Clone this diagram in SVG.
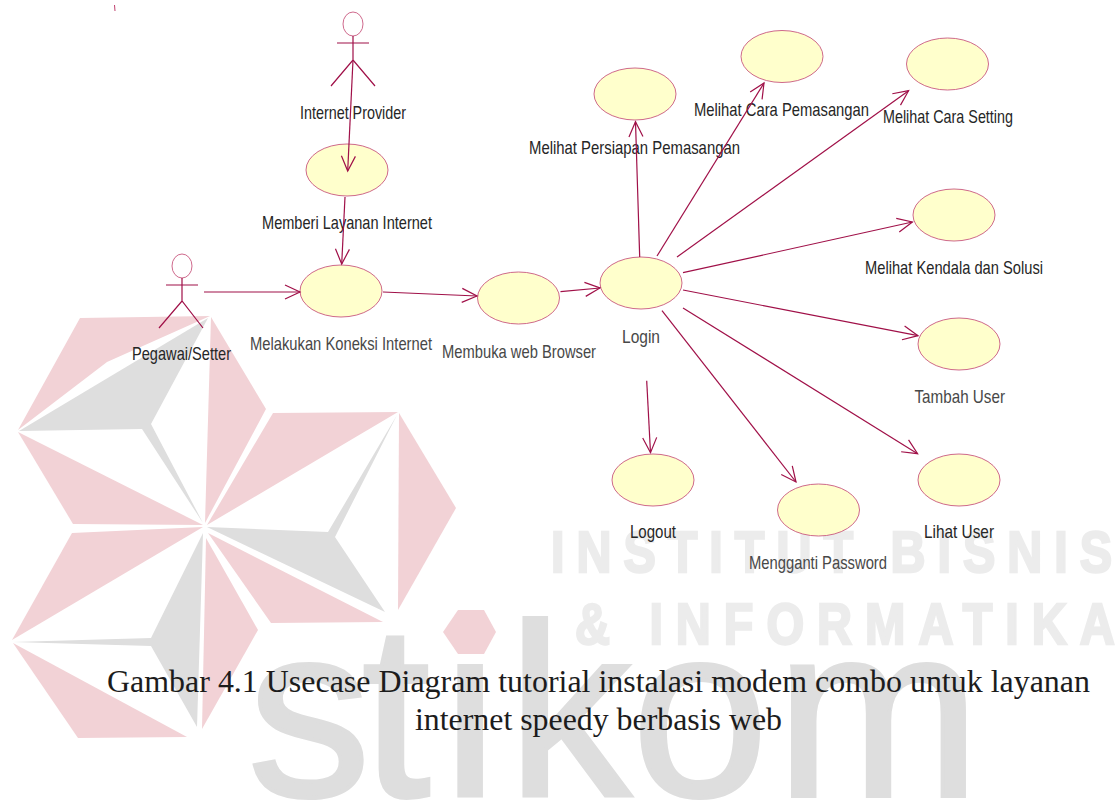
<svg xmlns="http://www.w3.org/2000/svg" width="1115" height="801" viewBox="0 0 1115 801">
<style>
.pink{fill:#f2d2d6}
.gray{fill:#dedede}
.uc{fill:#ffffcc;stroke:#c8587f;stroke-width:.9}
.act{fill:none;stroke:#a01048;stroke-width:1.2}
.head{fill:#fff;stroke:#c8587f;stroke-width:.9}
.c{fill:none;stroke:#a01048;stroke-width:1.2;marker-end:url(#arr)}
.l{font-family:"Liberation Sans",Arial,sans-serif;font-size:18.5px;fill:#262626}
.g{fill:#484848}
.cap{font-family:"Liberation Serif","Times New Roman",serif;font-size:32px;fill:#1c1c1c}
.wm{font-family:"Liberation Sans",Arial,sans-serif;font-weight:700;font-size:57px;fill:#ececec;stroke:#ececec;stroke-width:2.5}
.big{font-family:"Liberation Sans",Arial,sans-serif;font-size:245px;fill:#dedede;stroke:#dedede;stroke-width:4}
</style>
<defs>
<marker id="arr" markerUnits="userSpaceOnUse" markerWidth="20" markerHeight="18" refX="16" refY="8" orient="auto">
<path d="M1,1 L16,8 L1,15" fill="none" stroke="#a01048" stroke-width="1.2"/>
</marker>
</defs>
<rect width="1115" height="801" fill="#fff"/>
<g id="watermark">
<text class="big" y="796" x="248 362 443 508 632 776">stikom</text>
<polygon class="pink" points="443,632 458,610 484,610 496,632 484,654 458,654"/>
<polygon class="pink" points="80,318 210,316 107,362 18,430"/>
<polygon class="pink" points="18,432 203,525 73,524"/>
<polygon class="pink" points="211,317 266,409 205,523"/>
<polygon class="pink" points="273,413 398,412 207,525"/>
<polygon class="pink" points="399,413 456,508 398,610"/>
<polygon class="pink" points="208,533 383,622 271,623"/>
<polygon class="pink" points="72,533 203,527 12,640"/>
<polygon class="pink" points="13,643 187,737 78,738"/>
<polygon class="pink" points="206,538 258,630 202,729"/>
<polygon class="gray" points="19,431 208,318 151,424 203,523 142,429"/>
<polygon class="gray" points="207,527 328,532 397,415 335,537 385,612"/>
<polygon class="gray" points="203,533 197,727 151,646 13,642 151,638"/>
<text class="wm" transform="translate(551,572) scale(.85,1)" textLength="660" lengthAdjust="spacing">INSTITUT BISNIS</text>
<text class="wm" transform="translate(575,644) scale(.85,1)" textLength="635" lengthAdjust="spacing">&amp; INFORMATIKA</text>
</g>
<path d="M114.5,5 L115,11" fill="none" stroke="#c0406e" stroke-width="1"/>
<g id="actor-provider">
<ellipse class="head" cx="353" cy="24" rx="10" ry="12"/>
<path class="act" d="M353,36 V60 M337,43 H369 M331,86 L353,60 L375,86"/>
<text class="l" x="300" y="119" textLength="106" lengthAdjust="spacingAndGlyphs">Internet Provider</text>
</g>
<g id="actor-pegawai">
<ellipse class="head" cx="182" cy="266" rx="10" ry="12"/>
<path class="act" d="M182,278 V301 M166,285 H198 M159,328 L182,301 L203,328"/>
<text class="l" x="132" y="360" textLength="99" lengthAdjust="spacingAndGlyphs">Pegawai/Setter</text>
</g>
<g id="uc-memberi"><ellipse class="uc" cx="347" cy="170" rx="41" ry="26"/><text class="l" x="262" y="229" textLength="170" lengthAdjust="spacingAndGlyphs">Memberi Layanan Internet</text></g>
<g id="uc-koneksi"><ellipse class="uc" cx="341" cy="291" rx="41" ry="26"/><text class="l g" x="250" y="350" textLength="182" lengthAdjust="spacingAndGlyphs">Melakukan Koneksi Internet</text></g>
<g id="uc-browser"><ellipse class="uc" cx="518.5" cy="298" rx="41" ry="26"/><text class="l g" x="442" y="358" textLength="154" lengthAdjust="spacingAndGlyphs">Membuka web Browser</text></g>
<g id="uc-login"><ellipse class="uc" cx="641" cy="283" rx="41" ry="26"/><text class="l g" x="622" y="343" textLength="38" lengthAdjust="spacingAndGlyphs">Login</text></g>
<g id="uc-persiapan"><ellipse class="uc" cx="635" cy="94" rx="41" ry="26"/><text class="l" x="529" y="154" textLength="211" lengthAdjust="spacingAndGlyphs">Melihat Persiapan Pemasangan</text></g>
<g id="uc-pemasangan"><ellipse class="uc" cx="782" cy="56.5" rx="41" ry="26"/><text class="l" x="694" y="116" textLength="175" lengthAdjust="spacingAndGlyphs">Melihat Cara Pemasangan</text></g>
<g id="uc-setting"><ellipse class="uc" cx="947.5" cy="64" rx="41" ry="26"/><text class="l" x="883" y="123" textLength="130" lengthAdjust="spacingAndGlyphs">Melihat Cara Setting</text></g>
<g id="uc-kendala"><ellipse class="uc" cx="954" cy="215" rx="41" ry="26"/><text class="l" x="865" y="274" textLength="178" lengthAdjust="spacingAndGlyphs">Melihat Kendala dan Solusi</text></g>
<g id="uc-tambah"><ellipse class="uc" cx="959" cy="344" rx="41" ry="26"/><text class="l g" x="914.5" y="403" textLength="90.5" lengthAdjust="spacingAndGlyphs">Tambah User</text></g>
<g id="uc-lihat"><ellipse class="uc" cx="959" cy="480" rx="41" ry="26"/><text class="l" x="924" y="538" textLength="70" lengthAdjust="spacingAndGlyphs">Lihat User</text></g>
<g id="uc-logout"><ellipse class="uc" cx="653" cy="480" rx="41" ry="26"/><text class="l" x="630" y="538" textLength="46" lengthAdjust="spacingAndGlyphs">Logout</text></g>
<g id="uc-mengganti"><ellipse class="uc" cx="818.5" cy="510" rx="41" ry="26"/><text class="l g" x="749" y="569" textLength="138" lengthAdjust="spacingAndGlyphs">Mengganti Password</text></g>
<g id="connectors">
<path class="c" d="M353,60 L347.7,171"/>
<path class="c" d="M345,197 L341.7,264"/>
<path class="c" d="M204,292 L300,292"/>
<path class="c" d="M383,292 L477,296"/>
<path class="c" d="M560.5,291.7 L600,288"/>
<path class="c" d="M639.7,257 L635.5,121.7"/>
<path class="c" d="M657,256 L764,83"/>
<path class="c" d="M677,257 L908.6,90.7"/>
<path class="c" d="M683,272.7 L912.4,222"/>
<path class="c" d="M683,290 L918,335.7"/>
<path class="c" d="M683,308 L917.6,453.7"/>
<path class="c" d="M662,310.7 L796,482"/>
<path class="c" d="M646.7,380.7 L650.5,452.7"/>
</g>
<g id="caption">
<text class="cap" x="107" y="692" textLength="983" lengthAdjust="spacingAndGlyphs">Gambar 4.1 Usecase Diagram tutorial instalasi modem combo untuk layanan</text>
<text class="cap" x="415" y="730" textLength="367" lengthAdjust="spacingAndGlyphs">internet speedy berbasis web</text>
</g>
</svg>
